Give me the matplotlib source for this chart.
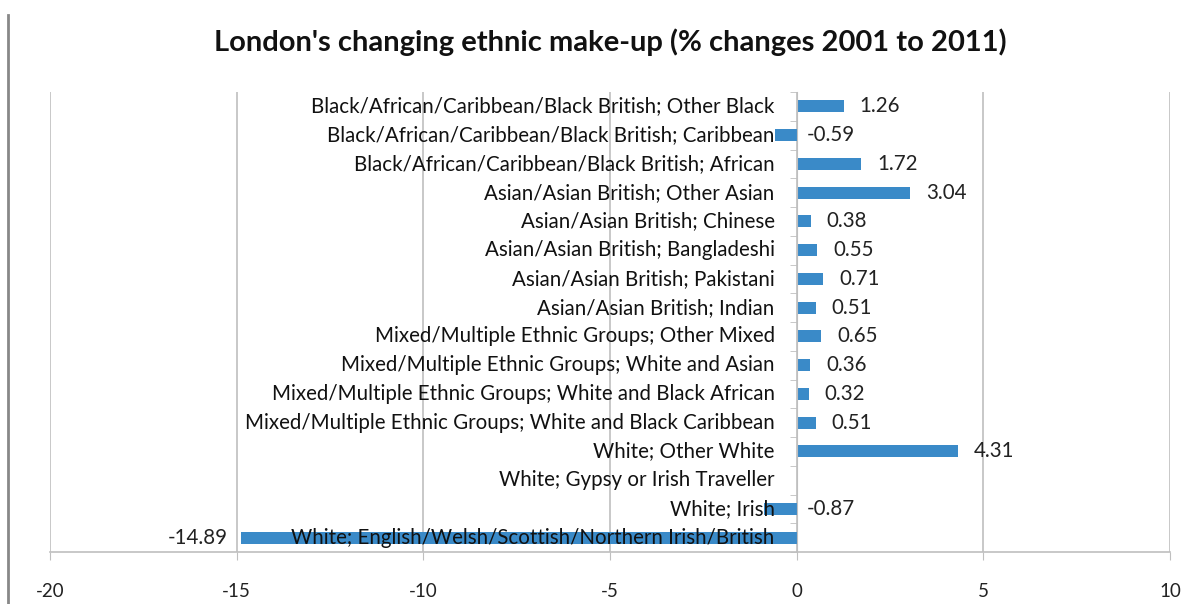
import matplotlib.pyplot as plt
from matplotlib.lines import Line2D

plt.rcParams['font.family'] = ['Lato', 'DejaVu Sans']

# top to bottom as in the chart
categories = [
    'Black/African/Caribbean/Black British; Other Black',
    'Black/African/Caribbean/Black British; Caribbean',
    'Black/African/Caribbean/Black British; African',
    'Asian/Asian British; Other Asian',
    'Asian/Asian British; Chinese',
    'Asian/Asian British; Bangladeshi',
    'Asian/Asian British; Pakistani',
    'Asian/Asian British; Indian',
    'Mixed/Multiple Ethnic Groups; Other Mixed',
    'Mixed/Multiple Ethnic Groups; White and Asian',
    'Mixed/Multiple Ethnic Groups; White and Black African',
    'Mixed/Multiple Ethnic Groups; White and Black Caribbean',
    'White; Other White',
    'White; Gypsy or Irish Traveller',
    'White; Irish',
    'White; English/Welsh/Scottish/Northern Irish/British',
]
changes = [1.26, -0.59, 1.72, 3.04, 0.38, 0.55, 0.71, 0.51,
           0.65, 0.36, 0.32, 0.51, 4.31, None, -0.87, -14.89]
xticks = [-20, -15, -10, -5, 0, 5, 10]

grid_col = '#bfbfbf'
bar_col = '#3a8ac8'
fs = 14.8

fig = plt.figure(figsize=(12.01, 6.04), dpi=100)
ax = fig.add_axes([50 / 1201, 52 / 604, 1120 / 1201, 460 / 604])

n = len(categories)
ypos = [n - 1 - i for i in range(n)]
vals = [v if v is not None else 0 for v in changes]
ax.barh(ypos, vals, height=0.42, color=bar_col, zorder=2)

ax.set_xlim(-20, 10)
ax.set_ylim(-0.5, n - 0.5)
ax.set_xticks(xticks)
ax.set_xticklabels([str(t) for t in xticks], fontsize=13.5, color='#222222')
ax.tick_params(axis='x', direction='out', length=6, color=grid_col, pad=16)
ax.grid(axis='x', color=grid_col, linewidth=1.2, zorder=0)

ax.set_yticks([])
ax.set_yticks([k - 0.5 for k in range(n + 1)], minor=True)
ax.tick_params(axis='y', which='minor', direction='out', length=5, color=grid_col)
ax.spines['left'].set_position(('data', 0))
ax.spines['left'].set_color(grid_col)
ax.spines['left'].set_zorder(3)
ax.spines['bottom'].set_color(grid_col)
ax.spines['bottom'].set_linewidth(1.2)
ax.spines['top'].set_visible(False)
ax.spines['right'].set_visible(False)

for y, cat in zip(ypos, categories):
    ax.annotate(cat, (0, y), xytext=(-22, 0), textcoords='offset pixels',
                ha='right', va='center', fontsize=fs, color='#111111', zorder=4)

for y, v in zip(ypos, changes):
    if v is None:
        continue
    if v > 0:
        ax.annotate(f'{v:.2f}', (v, y), xytext=(16, 0), textcoords='offset pixels',
                    ha='left', va='center', fontsize=fs, color='#222222')
    elif v > -5:
        ax.annotate(f'{v:.2f}', (0, y), xytext=(10, 0), textcoords='offset pixels',
                    ha='left', va='center', fontsize=fs, color='#222222')
    else:
        ax.annotate(f'{v:.2f}', (v, y), xytext=(-13, 0), textcoords='offset pixels',
                    ha='right', va='center', fontsize=fs, color='#222222')

fig.text(610 / 1201, 1 - 42 / 604, "London's changing ethnic make-up (% changes 2001 to 2011)",
         ha='center', va='center', fontsize=21, fontweight='bold', color='#111111')

fig.add_artist(Line2D([8 / 1201, 8 / 1201], [0, 1 - 15 / 604], transform=fig.transFigure,
                      color='#888888', linewidth=2))

fig.savefig('out.png', dpi=100)
